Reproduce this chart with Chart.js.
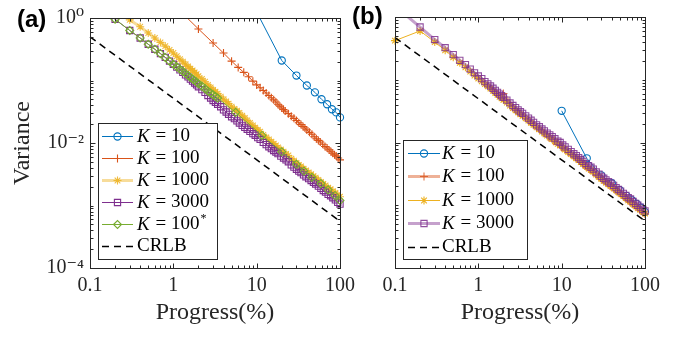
<!DOCTYPE html>
<html>
<head>
<meta charset="utf-8">
<script src="https://cdn.jsdelivr.net/npm/chart.js@4.4.1/dist/chart.umd.min.js"></script>
<style>
  body { margin: 0; background: #fff; }
  #wrap { position: relative; width: 688px; height: 337px; overflow: hidden; background: #fff; }
  canvas { position: absolute; left: 0; top: 0; }
  .tag { position: absolute; font: bold 24px 'Liberation Sans', Arial, sans-serif; line-height: 24px; color: #000; }
</style>
</head>
<body>
<div id="wrap">
  <canvas id="chart-a" width="688" height="337"></canvas>
  <canvas id="chart-b" width="688" height="337"></canvas>
  <div class="tag" style="left:17px;top:7px">(a)</div>
  <div class="tag" style="left:352px;top:4px">(b)</div>
</div>
<script>
// --- Axis ticks ---
const X_TICKS = [0.1, 1, 10, 100];
const X_TICK_LABELS = ['0.1', '1', '10', '100'];
const Y_TICKS = [1e-4, 1e-2, 1];
const Y_TICK_LABELS = ['10⁻⁴', '10⁻²', '10⁰'];

// --- x positions (progress, %) ---
const X_GRID = [0.1, 0.2, 0.3, 0.4, 0.5, 0.6, 0.7, 0.8, 0.9, 1,
  1.1, 1.2, 1.3, 1.4, 1.5, 1.6, 1.7, 1.8, 1.9, 2,
  2.2, 2.4, 2.6, 2.8, 3, 3.2, 3.4, 3.7, 4, 4.3,
  4.6, 5, 5.4, 5.8, 6.2, 6.7, 7.2, 7.7, 8.3, 9,
  9.6, 10.3, 11, 12, 13, 14, 15, 16, 17, 18,
  19.5, 21, 22.5, 24, 26, 28, 30, 32, 34, 36.5,
  39, 42, 45, 48, 51, 55, 59, 63, 67, 72,
  77, 82, 88, 94, 100];
const X_K10 = [10, 20, 30, 40, 50, 60, 70, 80, 90, 100];
const X_K100_A = [1, 2, 3, 4, 5, 6, 7, 8, 9, 10, 11, 12, 13, 14, 15, 16, 17, 18, 19, 20, 21, 22,
  24, 26, 28, 30, 32, 34, 36, 38, 40, 43, 46, 49, 52, 55, 58, 62, 66, 70, 74, 78, 82, 86, 90, 95, 100];
const X_K100_B = [2, 3, 4, 5, 6, 7, 8, 9, 10, 11, 12, 13, 14, 15, 16, 17, 18, 19, 20, 21, 22,
  24, 26, 28, 30, 32, 34, 36, 38, 40, 43, 46, 49, 52, 55, 58, 62, 66, 70, 74, 78, 82, 86, 90, 95, 100];
const X_K100STAR = [0.1, 0.2, 0.3, 0.4, 0.5, 0.6, 0.7, 0.8, 0.9, 1, 1.1, 1.2, 1.3, 1.4, 1.5, 1.6, 1.7, 1.8, 1.9,
  2, 2.2, 2.4, 2.6, 2.8, 3, 3.2, 3.4, 5.6, 11.6, 20, 30, 37, 46, 59, 72, 87, 100];
const X_CRLB = [0.1, 100];

// --- panel (a) variances ---
const A_K10 = [1.25, 0.209, 0.12, 0.0832, 0.0646, 0.0501, 0.0417, 0.0347, 0.0309, 0.0257];
const A_K100 = [1.65, 0.668, 0.398, 0.275, 0.204, 0.162, 0.135, 0.115, 0.0977, 0.0851,
  0.0767, 0.0692, 0.0631, 0.0575, 0.0531, 0.049, 0.0452, 0.0417, 0.0389, 0.0363, 0.0343, 0.0324,
  0.0295, 0.0269, 0.0248, 0.0229, 0.0211, 0.0197, 0.0184, 0.0174, 0.0162,
  0.0148, 0.0138, 0.0126, 0.0117, 0.011, 0.0104,
  0.00955, 0.00881, 0.00832, 0.00776, 0.00724, 0.00684, 0.00646, 0.00617, 0.00575, 0.00537];
const A_K1000 = [4.0, 2.0, 0.933, 0.724, 0.575, 0.479, 0.407, 0.355, 0.309, 0.275,
  0.245, 0.219, 0.2, 0.182, 0.168, 0.155, 0.145, 0.135, 0.126, 0.117,
  0.106, 0.0955, 0.0851, 0.0776, 0.0708, 0.0661, 0.0617, 0.055, 0.0501, 0.0462,
  0.0427, 0.038, 0.0351, 0.0327, 0.0302, 0.0272, 0.0251, 0.0229, 0.0209, 0.0191,
  0.0176, 0.0162, 0.0151, 0.0135, 0.0123, 0.0114, 0.0105, 0.00977, 0.00912, 0.00851,
  0.00785, 0.00724, 0.00668, 0.00631, 0.00562, 0.00519, 0.00479, 0.00447, 0.00422, 0.00389,
  0.00363, 0.00339, 0.00316, 0.00295, 0.00279, 0.00257, 0.00237, 0.00221, 0.00209, 0.00193,
  0.00182, 0.0017, 0.00158, 0.00148, 0.00138];
const A_K3000 = [2.0, 0.955, 0.631, 0.479, 0.38, 0.316, 0.269, 0.234, 0.204, 0.182,
  0.164, 0.148, 0.135, 0.123, 0.114, 0.105, 0.0977, 0.0912, 0.0851, 0.0794,
  0.0716, 0.0646, 0.0575, 0.0525, 0.0479, 0.0447, 0.0417, 0.038, 0.0339, 0.0313,
  0.0288, 0.0263, 0.0245, 0.0226, 0.0209, 0.0191, 0.0178, 0.0166, 0.0153, 0.0141,
  0.0133, 0.0122, 0.0114, 0.0102, 0.00944, 0.00871, 0.00813, 0.00759, 0.00716, 0.00676,
  0.00617, 0.00575, 0.00537, 0.00501, 0.00447, 0.00412, 0.0038, 0.00355, 0.00335, 0.00309,
  0.00288, 0.00269, 0.00251, 0.00234, 0.00221, 0.00204, 0.00188, 0.00174, 0.00164, 0.00151,
  0.00143, 0.00133, 0.00123, 0.00112, 0.00105];
const A_K100STAR = [2.0, 0.955, 0.631, 0.479, 0.38, 0.316, 0.269, 0.234, 0.204, 0.182,
  0.166, 0.151, 0.14, 0.129, 0.12, 0.112, 0.106, 0.1, 0.0944,
  0.0891, 0.0813, 0.0741, 0.0676, 0.0631, 0.0589, 0.0556, 0.0525,
  0.0309, 0.0132, 0.00724, 0.00457, 0.00355, 0.00282, 0.00224, 0.00178, 0.00145, 0.0012];
const A_CRLB = [0.5, 0.00056];

// --- panel (b) variances ---
const B_K10 = [0.032, 0.0056, 0.003, 0.00224, 0.00174, 0.00141, 0.0012, 0.00105, 0.000912, 0.000776];
const B_K100 = [0.0603, 0.0302, 0.0219, 0.017, 0.0141, 0.012, 0.0105, 0.00933, 0.00832,
  0.00759, 0.00692, 0.00638, 0.00589, 0.0055, 0.00513, 0.00479, 0.00447, 0.00422, 0.00398, 0.0038, 0.00363,
  0.00331, 0.00302, 0.00279, 0.00257, 0.0024, 0.00226, 0.00214, 0.00202, 0.00191,
  0.00178, 0.00166, 0.00155, 0.00146, 0.00138, 0.0013,
  0.0012, 0.00112, 0.00105, 0.000989, 0.000933, 0.000891, 0.000851, 0.000804, 0.000759, 0.000724];
const B_K1000 = [0.42, 0.6, 0.398, 0.295, 0.229, 0.186, 0.158, 0.135, 0.117, 0.105,
  0.0944, 0.0851, 0.0785, 0.0724, 0.0668, 0.0617, 0.0575, 0.0537, 0.0507, 0.0479,
  0.0432, 0.0389, 0.0355, 0.0327, 0.0302, 0.0282, 0.0266, 0.0243, 0.0224, 0.0207,
  0.0191, 0.0174, 0.0162, 0.015, 0.014, 0.0129, 0.012, 0.0114, 0.0105, 0.00955,
  0.00912, 0.00832, 0.00776, 0.00708, 0.00653, 0.00603, 0.00562, 0.00525, 0.0049, 0.00457,
  0.00422, 0.00389, 0.00367, 0.00343, 0.00309, 0.00285, 0.00263, 0.00245, 0.00232, 0.00216,
  0.00204, 0.00188, 0.00174, 0.00162, 0.00153, 0.00141, 0.0013, 0.0012, 0.00115, 0.00105,
  0.000977, 0.000912, 0.000851, 0.000785, 0.000741];
const B_K3000 = [1.5, 0.692, 0.437, 0.324, 0.251, 0.204, 0.174, 0.148, 0.129, 0.115,
  0.104, 0.0933, 0.0861, 0.0794, 0.0733, 0.0676, 0.0631, 0.0589, 0.0556, 0.0525,
  0.0473, 0.0427, 0.0389, 0.0359, 0.0331, 0.0309, 0.0292, 0.0266, 0.0245, 0.0226,
  0.0209, 0.0191, 0.0178, 0.0164, 0.0153, 0.0141, 0.0132, 0.0124, 0.0115, 0.0105,
  0.01, 0.00912, 0.00851, 0.00776, 0.00716, 0.00661, 0.00617, 0.00575, 0.00537, 0.00501,
  0.00462, 0.00427, 0.00403, 0.00376, 0.00339, 0.00313, 0.00288, 0.00269, 0.00254, 0.00237,
  0.00224, 0.00207, 0.00191, 0.00178, 0.00168, 0.00155, 0.00143, 0.00132, 0.00126, 0.00115,
  0.00107, 0.001, 0.000933, 0.000861, 0.000813];
const B_CRLB = [0.47, 0.00056];

const LABELS_A = ['K = 10', 'K = 100', 'K = 1000', 'K = 3000', 'K = 100*', 'CRLB'];
const LABELS_B = ['K = 10', 'K = 100', 'K = 1000', 'K = 3000', 'CRLB'];

// --- Styling ---
const SERIF = "'Liberation Serif', 'DejaVu Serif', serif";
const INK = '#262626';
const BLUE = '#0072BD';
const RED = '#D95319';
const YELLOW = '#EDB120';
const PURPLE = '#7E2F8E';
const GREEN = '#77AC30';
const LEGEND_SIZE = 19;

Chart.defaults.font.family = SERIF;
Chart.defaults.color = INK;

function points(xs, ys) {
    return xs.map((x, i) => ({ x: x, y: ys[i] }));
}

function series(label, xs, ys, style) {
    return Object.assign({
        label: label,
        data: points(xs, ys),
        fill: false,
        tension: 0,
        pointBackgroundColor: 'rgba(0,0,0,0)',
        pointBorderWidth: 1.1,
        clip: { left: 8, right: 8, top: 0, bottom: 8 }
    }, style);
}

// minor/major tick values of a log axis
function logTicks(scale, majors) {
    const out = [];
    const lo = Math.floor(Math.log10(scale.min) + 1e-9);
    const hi = Math.ceil(Math.log10(scale.max) - 1e-9);
    for (let e = lo; e <= hi; e++) {
        for (let k = 1; k <= 9; k++) {
            const v = k * Math.pow(10, e);
            if (v < scale.min * 0.999 || v > scale.max * 1.001) continue;
            out.push([v, majors.some(m => Math.abs(m - v) / m < 1e-6)]);
        }
    }
    return out;
}

// box around the axes with inward ticks on all four sides
const framePlugin = {
    id: 'frame',
    afterDatasetsDraw(chart) {
        const { ctx, chartArea: a, scales } = chart;
        const L = Math.round(a.left) + 0.5, R = Math.round(a.right) + 0.5;
        const T = Math.round(a.top) + 0.5, B = Math.round(a.bottom) + 0.5;
        ctx.save();
        ctx.strokeStyle = INK;
        ctx.lineWidth = 1;
        ctx.strokeRect(L, T, R - L, B - T);
        ctx.beginPath();
        logTicks(scales.x, X_TICKS).forEach(([v, major]) => {
            const p = Math.round(scales.x.getPixelForValue(v)) + 0.5;
            const len = major ? 5 : 3;
            ctx.moveTo(p, B); ctx.lineTo(p, B - len);
            ctx.moveTo(p, T); ctx.lineTo(p, T + len);
        });
        logTicks(scales.y, Y_TICKS).forEach(([v, major]) => {
            const p = Math.round(scales.y.getPixelForValue(v)) + 0.5;
            const len = major ? 5 : 3;
            ctx.moveTo(L, p); ctx.lineTo(L + len, p);
            ctx.moveTo(R, p); ctx.lineTo(R - len, p);
        });
        ctx.stroke();
        ctx.restore();
    }
};

function drawLabel(ctx, label, x, y) {
    ctx.fillStyle = '#000';
    ctx.textBaseline = 'middle';
    ctx.textAlign = 'left';
    let rest = label;
    if (label.startsWith('K')) {
        ctx.font = 'italic ' + LEGEND_SIZE + 'px ' + SERIF;
        ctx.fillText('K', x, y);
        x += ctx.measureText('K').width + 1;
        rest = label.slice(1);
    }
    const star = rest.endsWith('*');
    if (star) rest = rest.slice(0, -1);
    ctx.font = LEGEND_SIZE + 'px ' + SERIF;
    ctx.fillText(rest, x, y);
    x += ctx.measureText(rest).width;
    if (star) {
        ctx.font = Math.round(LEGEND_SIZE * 0.65) + 'px ' + SERIF;
        ctx.fillText('*', x + 1, y - 6);
    }
}

// legend drawn inside the axes, MATLAB style
const legendPlugin = {
    id: 'boxLegend',
    afterDraw(chart, args, opts) {
        const { ctx } = chart;
        const box = opts.box;
        ctx.save();
        ctx.fillStyle = '#fff';
        ctx.fillRect(box.x, box.y, box.w, box.h);
        ctx.strokeStyle = INK;
        ctx.lineWidth = 1;
        ctx.strokeRect(box.x + 0.5, box.y + 0.5, box.w, box.h);
        chart.data.datasets.forEach((ds, i) => {
            const y = Math.round(opts.rowTop + i * opts.rowStep) + 0.5;
            ctx.save();
            ctx.strokeStyle = ds.borderColor;
            ctx.lineWidth = ds.borderWidth;
            ctx.setLineDash(ds.borderDash || []);
            ctx.beginPath();
            ctx.moveTo(opts.lineFrom, y);
            ctx.lineTo(opts.lineTo, y);
            ctx.stroke();
            ctx.restore();
            if (ds.pointRadius > 0) {
                ctx.save();
                ctx.strokeStyle = ds.pointBorderColor;
                ctx.fillStyle = 'rgba(0,0,0,0)';
                ctx.lineWidth = ds.pointBorderWidth;
                const mx = (opts.lineFrom + opts.lineTo) / 2;
                if (Chart.helpers && Chart.helpers.drawPoint) {
                    Chart.helpers.drawPoint(ctx, {
                        pointStyle: ds.pointStyle, radius: ds.pointRadius,
                        borderWidth: ds.pointBorderWidth, rotation: 0
                    }, mx, y);
                } else {
                    ctx.beginPath();
                    ctx.arc(mx, y, ds.pointRadius, 0, Math.PI * 2);
                    ctx.stroke();
                }
                ctx.restore();
            }
            drawLabel(ctx, ds.label, opts.textX, y);
        });
        ctx.restore();
    }
};

function makeChart(id, datasets, cfg) {
    return new Chart(document.getElementById(id), {
        type: 'line',
        data: { datasets: datasets },
        options: {
            responsive: false,
            animation: false,
            devicePixelRatio: 1,
            layout: { padding: cfg.padding },
            plugins: {
                legend: { display: false },
                tooltip: { enabled: false },
                boxLegend: cfg.legend
            },
            scales: {
                x: {
                    type: 'logarithmic',
                    min: 0.1,
                    max: 100,
                    grid: { display: false, drawTicks: false },
                    border: { display: false },
                    afterBuildTicks: (s) => { s.ticks = X_TICKS.map(v => ({ value: v })); },
                    afterFit: (s) => { s.height = 62; },
                    ticks: {
                        autoSkip: false, maxRotation: 0, padding: 6,
                        font: { family: SERIF, size: 20 }, color: INK,
                        callback: (v, i) => X_TICK_LABELS[i]
                    },
                    title: {
                        display: true, text: 'Progress(%)', color: INK,
                        font: { family: SERIF, size: 24 }, padding: { top: 0, bottom: 3 }
                    }
                },
                y: {
                    type: 'logarithmic',
                    min: 1e-4,
                    max: 1,
                    grid: { display: false, drawTicks: false },
                    border: { display: false },
                    afterBuildTicks: (s) => { s.ticks = Y_TICKS.map(v => ({ value: v })); },
                    afterFit: (s) => { s.width = cfg.yWidth; },
                    ticks: {
                        display: cfg.yLabels, autoSkip: false, padding: 6,
                        font: { family: SERIF, size: 20 }, color: INK,
                        callback: (v, i) => Y_TICK_LABELS[i]
                    },
                    title: {
                        display: cfg.yLabels, text: 'Variance', color: INK,
                        font: { family: SERIF, size: 24 }, padding: { top: 4, bottom: 0 }
                    }
                }
            }
        },
        plugins: [framePlugin, legendPlugin]
    });
}

// --- Panel (a) ---
const datasetsA = [
    series(LABELS_A[0], X_K10, A_K10, {
        borderColor: BLUE, borderWidth: 1, pointStyle: 'circle', pointRadius: 3.6, pointBorderColor: BLUE, order: 6 }),
    series(LABELS_A[1], X_K100_A, A_K100, {
        borderColor: RED, borderWidth: 1, pointStyle: 'cross', pointRadius: 4, pointBorderColor: RED, order: 5 }),
    series(LABELS_A[2], X_GRID, A_K1000, {
        borderColor: 'rgba(237,177,32,0.45)', borderWidth: 3, pointStyle: 'star', pointRadius: 4,
        pointBorderColor: 'rgba(237,177,32,0.85)', order: 4 }),
    series(LABELS_A[3], X_GRID, A_K3000, {
        borderColor: PURPLE, borderWidth: 1, pointStyle: 'rect', pointRadius: 4.4, pointBorderColor: PURPLE, order: 3 }),
    series(LABELS_A[4], X_K100STAR, A_K100STAR, {
        borderColor: GREEN, borderWidth: 1, pointStyle: 'rectRot', pointRadius: 4, pointBorderColor: GREEN, order: 2 }),
    series(LABELS_A[5], X_CRLB, A_CRLB, {
        borderColor: '#000', borderWidth: 1.5, borderDash: [7, 5], pointRadius: 0, order: 1 })
];

makeChart('chart-a', datasetsA, {
    padding: { left: 4, right: 348, top: 17, bottom: 7 },
    yWidth: 86,
    yLabels: true,
    legend: {
        box: { x: 98, y: 123, w: 119, h: 136 },
        rowTop: 136, rowStep: 22, lineFrom: 102, lineTo: 133, textX: 137
    }
});

// --- Panel (b) ---
const datasetsB = [
    series(LABELS_B[0], X_K10, B_K10, {
        borderColor: BLUE, borderWidth: 1, pointStyle: 'circle', pointRadius: 3.6, pointBorderColor: BLUE, order: 5 }),
    series(LABELS_B[1], X_K100_B, B_K100, {
        borderColor: 'rgba(217,83,25,0.45)', borderWidth: 3, pointStyle: 'cross', pointRadius: 4,
        pointBorderColor: 'rgba(217,83,25,0.8)', order: 4 }),
    series(LABELS_B[2], X_GRID, B_K1000, {
        borderColor: YELLOW, borderWidth: 1, pointStyle: 'star', pointRadius: 4, pointBorderColor: YELLOW, order: 3 }),
    series(LABELS_B[3], X_GRID, B_K3000, {
        borderColor: 'rgba(126,47,142,0.45)', borderWidth: 3, pointStyle: 'rect', pointRadius: 4.4,
        pointBorderColor: 'rgba(126,47,142,0.85)', order: 2 }),
    series(LABELS_B[4], X_CRLB, B_CRLB, {
        borderColor: '#000', borderWidth: 1.5, borderDash: [7, 5], pointRadius: 0, order: 1 })
];

makeChart('chart-b', datasetsB, {
    padding: { left: 385, right: 43, top: 17, bottom: 7 },
    yWidth: 10,
    yLabels: false,
    legend: {
        box: { x: 403, y: 140, w: 124, h: 119 },
        rowTop: 153, rowStep: 23.4, lineFrom: 408, lineTo: 440, textX: 442
    }
});
</script>
</body>
</html>
